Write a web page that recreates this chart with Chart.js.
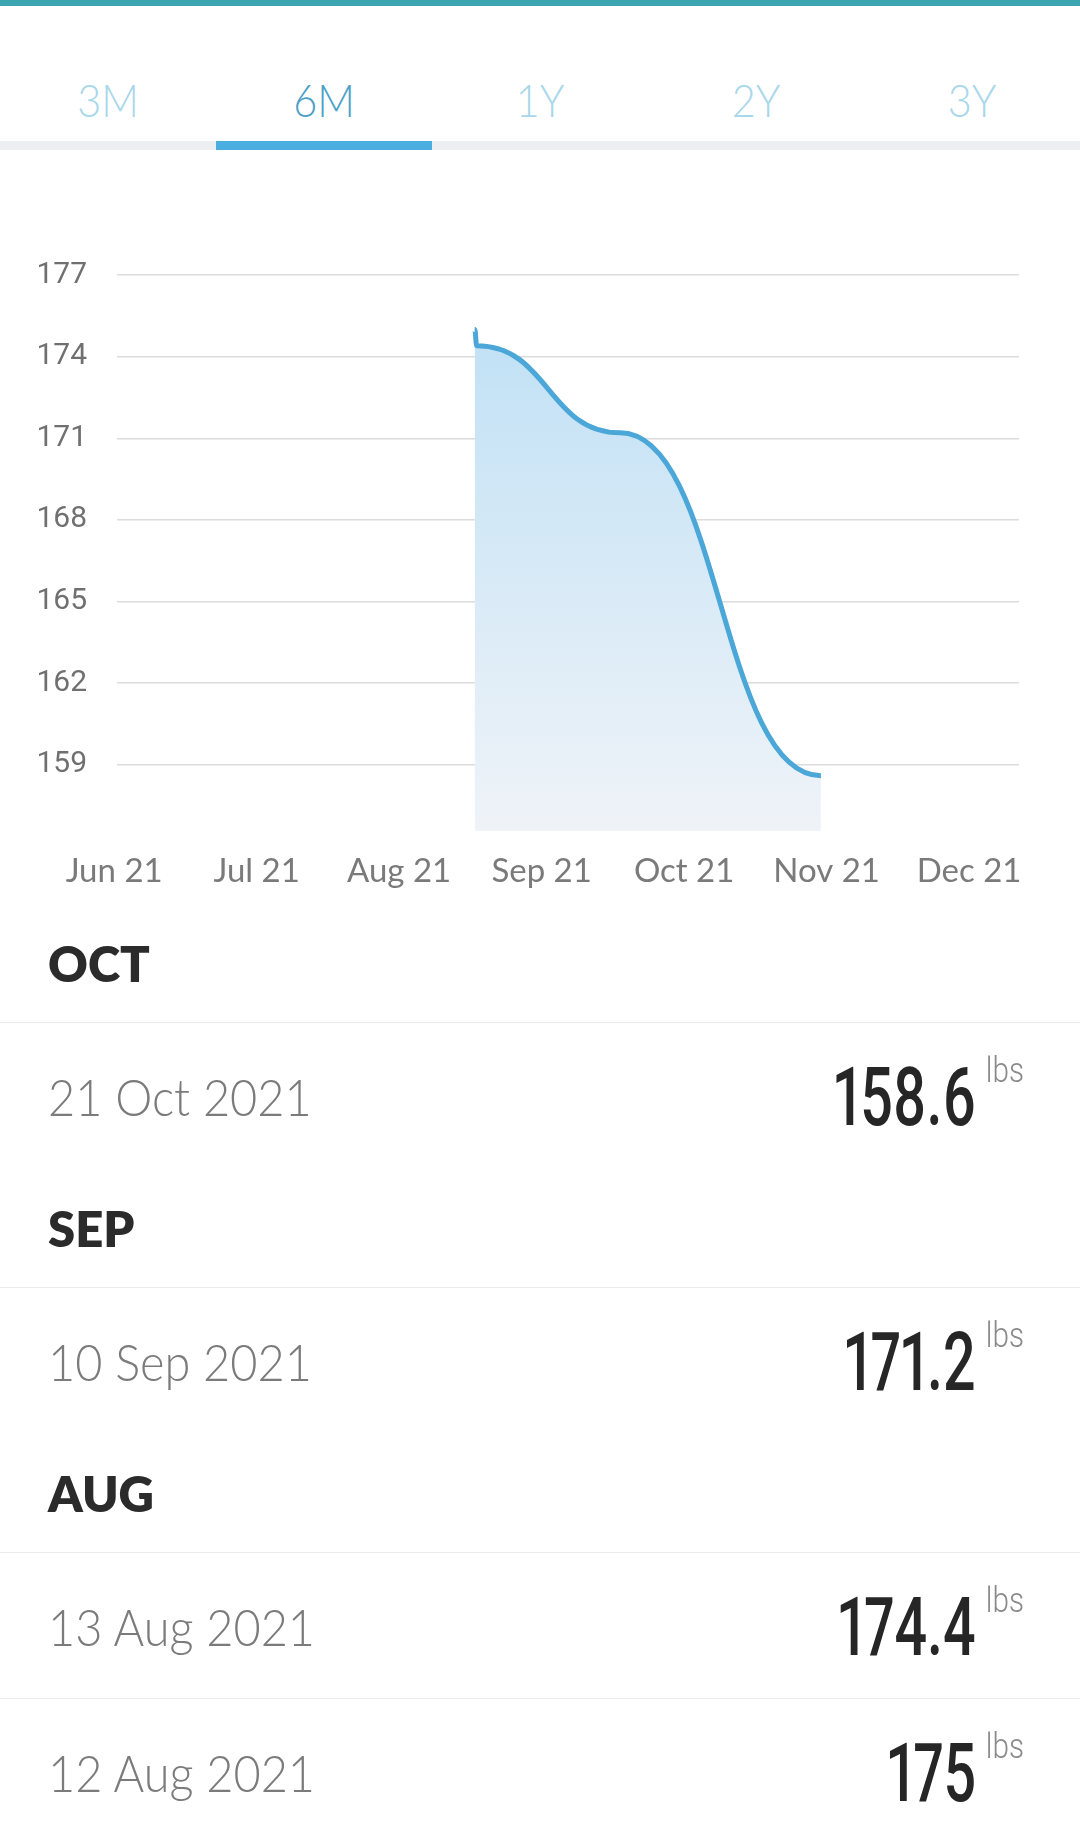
<!DOCTYPE html>
<html>
<head>
<meta charset="utf-8">
<title>Weight - 6M</title>
<script src="https://cdn.jsdelivr.net/npm/chart.js@4.4.0/dist/chart.umd.min.js"></script>
<style>
  body { margin: 0; width: 1080px; height: 1842px; overflow: hidden; background: #fff; position: relative; font-family: Lato, sans-serif; }
  .topbar { position: absolute; left: 0; top: 0; width: 1080px; height: 6px; background: #3ba6b1; }
  .tab { position: absolute; top: 77px; width: 216px; text-align: center; font: 300 46px/1 Lato; color: #a9d7ea; transform: scaleX(0.9); }
  .tab.on { color: #4b9fc7; }
  .tabline { position: absolute; left: 0; top: 141px; width: 1080px; height: 9px; background: #eceef1; }
  .tabactive { position: absolute; left: 216px; top: 141px; width: 216px; height: 9px; background: #4aaee0; }
  #chartBox { position: absolute; left: 0; top: 160px; width: 1080px; height: 760px; }
  #list { position: absolute; left: 0; top: 903px; width: 1080px; }
  .head { position: relative; height: 119px; }
  .head span { position: absolute; left: 48px; top: 36px; font: 800 49px/1 Lato; color: #2b2b2b; }
  .row { position: relative; height: 145px; border-top: 1px solid #ececec; }
  .date { position: absolute; left: 48px; top: 48px; font: 300 51px/1 Lato; color: #7b7b7b; transform: scaleX(0.92); transform-origin: left center; }
  .val { position: absolute; right: 104px; top: 33px; font: 500 82px/1 Roboto; color: #262626; font-variant-numeric: proportional-nums; transform: scaleX(0.7); transform-origin: right center; }
  .unit { position: absolute; right: 56px; top: 30px; font: 300 35px/1 Roboto; color: #8a8a8a; transform: scaleX(0.85); transform-origin: right center; }
</style>
</head>
<body>
<div class="topbar"></div>
<div id="tabs"></div>
<div class="tabline"></div>
<div class="tabactive"></div>
<div id="chartBox"><canvas id="weightChart"></canvas></div>
<div id="list"></div>

<script>
// axis labels
const tabLabels = ['3M', '6M', '1Y', '2Y', '3Y'];
const monthLabels = ['Jun 21', 'Jul 21', 'Aug 21', 'Sep 21', 'Oct 21', 'Nov 21', 'Dec 21'];
const yTicks = [159, 162, 165, 168, 171, 174, 177];

// weigh-ins, oldest first
const entryDates = ['12 Aug 2021', '13 Aug 2021', '10 Sep 2021', '21 Oct 2021'];
const entryWeights = [175, 174.4, 171.2, 158.6];
// where the app puts each weigh-in on the month axis (0 = Jun 21)
const entryMonthPos = [2.53, 2.545, 3.55, 4.96];

// tabs
tabLabels.forEach(function (t, i) {
  var d = document.createElement('div');
  d.className = 'tab' + (i === 1 ? ' on' : '');
  d.style.left = (i * 216) + 'px';
  d.textContent = t;
  document.getElementById('tabs').appendChild(d);
});

// list, newest first, grouped by month
var list = document.getElementById('list');
var lastMonth = '';
for (var i = entryDates.length - 1; i >= 0; i--) {
  var m = entryDates[i].split(' ')[1].toUpperCase();
  if (m !== lastMonth) {
    var h = document.createElement('div');
    h.className = 'head';
    h.innerHTML = '<span>' + m + '</span>';
    list.appendChild(h);
    lastMonth = m;
  }
  var r = document.createElement('div');
  r.className = 'row';
  r.innerHTML = '<span class="date">' + entryDates[i] + '</span>' +
    '<span class="val">' + entryWeights[i] + '</span>' +
    '<span class="unit">lbs</span>';
  list.appendChild(r);
}

// the app draws flat tangents at every weigh-in, so redo the bezier handles
var flatCurve = {
  id: 'flatCurve',
  beforeDraw: function (chart) {
    var line = chart.getDatasetMeta(0).dataset;
    line.updateControlPoints(chart.chartArea, 'x');
    var pts = line.points;
    pts.forEach(function (p, i) {
      var prev = pts[i - 1], next = pts[i + 1];
      p.cp1x = prev ? (prev.x + p.x) / 2 : p.x;
      p.cp1y = p.y;
      p.cp2x = next ? (p.x + next.x) / 2 : p.x;
      p.cp2y = p.y;
    });
    line._path = undefined;
  }
};

var ctx = document.getElementById('weightChart');
new Chart(ctx, {
  type: 'line',
  data: {
    datasets: [{
      data: entryMonthPos.map(function (x, i) { return { x: x, y: entryWeights[i] }; }),
      borderColor: '#4aa7d8',
      borderWidth: 5,
      borderJoinStyle: 'round',
      tension: 0.4,
      fill: 'start',
      backgroundColor: function (c) {
        var a = c.chart.chartArea;
        if (!a) return 'rgba(0,0,0,0)';
        var g = c.chart.ctx.createLinearGradient(0, a.top, 0, a.bottom);
        g.addColorStop(0, '#bcdff5');
        g.addColorStop(1, '#eff3f8');
        return g;
      },
      pointRadius: 0
    }]
  },
  plugins: [flatCurve],
  options: {
    responsive: true,
    maintainAspectRatio: false,
    animation: false,
    layout: { padding: { top: 115, right: 61, bottom: 19, left: 0 } },
    plugins: { legend: { display: false }, tooltip: { enabled: false } },
    scales: {
      x: {
        type: 'linear',
        min: 0.02,
        max: 6.35,
        grid: { display: false, drawTicks: false },
        border: { display: false },
        afterBuildTicks: function (s) { s.ticks = monthLabels.map(function (_, i) { return { value: i }; }); },
        afterFit: function (s) { s.height = 70; },
        ticks: {
          autoSkip: false,
          maxRotation: 0,
          padding: 21,
          color: '#7a7a7a',
          font: { family: 'Lato', size: 33 },
          callback: function (v, i) { return monthLabels[i]; }
        }
      },
      y: {
        min: 156.57,
        max: 177,
        grid: { color: '#dcdcdc', lineWidth: 1.5, drawTicks: false },
        border: { display: false },
        afterBuildTicks: function (s) { s.ticks = yTicks.map(function (v) { return { value: v }; }); },
        afterFit: function (s) { s.width = 117; },
        ticks: {
          padding: 30,
          color: '#707070',
          font: { family: 'Roboto', size: 30 }
        }
      }
    }
  }
});
</script>
</body>
</html>
